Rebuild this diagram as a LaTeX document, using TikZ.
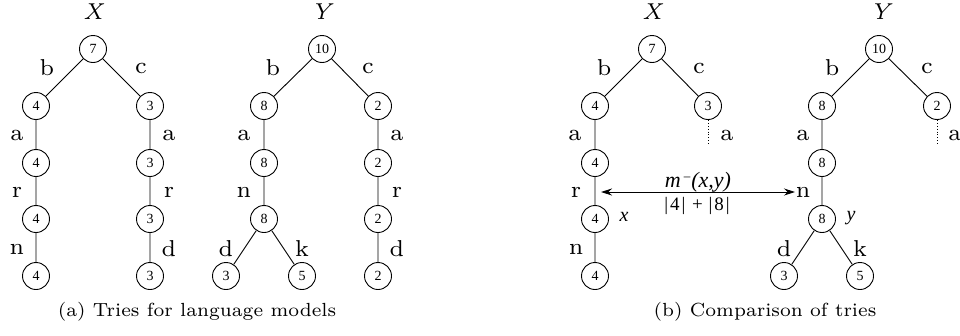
\documentclass[tikz,border=0pt]{standalone}
\usepackage{fontspec}
\newfontfamily\timesf{Liberation Serif}
\newfontfamily\lmseven{lmroman7-regular.otf}
\newfontfamily\lmsevenit{lmroman7-italic.otf}
\usetikzlibrary{arrows.meta}
\newcommand{\numf}{\timesf\fontsize{14}{16}\selectfont}
\newcommand{\labf}{\lmseven\fontsize{23}{25}\selectfont}
\newcommand{\titf}{\lmsevenit\fontsize{23}{25}\selectfont}
\newcommand{\capf}{\lmseven\fontsize{19}{21}\selectfont}
\newcommand{\varf}{\timesf\itshape\fontsize{20}{22}\selectfont}
\tikzset{
  v/.style={circle,draw,line width=0.9pt,inner sep=0pt,minimum size=27pt,font=\numf},
  lab/.style={font=\labf,inner sep=0pt},
  tit/.style={font=\titf,inner sep=0pt},
  edge/.style={line width=0.9pt},
  dots/.style={line width=0.9pt,dotted},
}
\begin{document}
\begin{tikzpicture}[x=1pt,y=-1pt]
\useasboundingbox (0,0) rectangle (960,335);
% ---------- panel (a), X
\node[tit] (tXa) at (93,12) {X};
\node[v] (a7) at (93,49) {7};
\node[v] (a4a) at (36,106) {4};
\node[v] (a4b) at (36,163) {4};
\node[v] (a4c) at (36,219) {4};
\node[v] (a4d) at (36,276) {4};
\node[v] (a3a) at (150,106) {3};
\node[v] (a3b) at (150,163) {3};
\node[v] (a3c) at (150,219) {3};
\node[v] (a3d) at (150,276) {3};
\draw[edge] (a7)--(a4a) (a4a)--(a4b) (a4b)--(a4c) (a4c)--(a4d);
\draw[edge] (a7)--(a3a) (a3a)--(a3b) (a3b)--(a3c) (a3c)--(a3d);
\node[lab] (l1) at (47,68) {b};
\node[lab] (l2) at (141,68) {c};
\node[lab] (l3) at (17,135) {a};
\node[lab] (l4) at (17,192) {r};
\node[lab] (l5) at (17,249) {n};
\node[lab] (l6) at (169,135) {a};
\node[lab] (l7) at (169,192) {r};
\node[lab] (l8) at (169,249) {d};
% ---------- panel (a), Y
\node[tit] (tYa) at (321,12) {Y};
\node[v] (b10) at (322,49) {10};
\node[v] (b8a) at (264,106) {8};
\node[v] (b8b) at (264,163) {8};
\node[v] (b8c) at (264,219) {8};
\node[v] (b3) at (226,276) {3};
\node[v] (b5) at (302,276) {5};
\node[v] (b2a) at (378,106) {2};
\node[v] (b2b) at (378,163) {2};
\node[v] (b2c) at (378,219) {2};
\node[v] (b2d) at (378,276) {2};
\draw[edge] (b10)--(b8a) (b8a)--(b8b) (b8b)--(b8c) (b8c)--(b3) (b8c)--(b5);
\draw[edge] (b10)--(b2a) (b2a)--(b2b) (b2b)--(b2c) (b2c)--(b2d);
\node[lab] (m1) at (273,68) {b};
\node[lab] (m2) at (368,68) {c};
\node[lab] (m3) at (244,135) {a};
\node[lab] (m4) at (244,192) {n};
\node[lab] (m5) at (226,249) {d};
\node[lab] (m6) at (302,249) {k};
\node[lab] (m7) at (397,135) {a};
\node[lab] (m8) at (397,192) {r};
\node[lab] (m9) at (397,249) {d};
\node[font=\capf] (capa) at (197,312) {(a) Tries for language models};
% ---------- panel (b), X
\node[tit] (tXb) at (652,12) {X};
\node[v] (c7) at (652,49) {7};
\node[v] (c4a) at (595,106) {4};
\node[v] (c4b) at (595,163) {4};
\node[v] (c4c) at (595,219) {4};
\node[v] (c4d) at (595,276) {4};
\node[v] (c3) at (708,106) {3};
\coordinate (c3e) at (708,144);
\draw[edge] (c7)--(c4a) (c4a)--(c4b) (c4b)--(c4c) (c4c)--(c4d) (c7)--(c3);
\draw[dots] (c3)--(c3e);
\node[lab] (n1) at (604,68) {b};
\node[lab] (n2) at (699,68) {c};
\node[lab] (n3) at (575,135) {a};
\node[lab] (n4) at (576,192) {r};
\node[lab] (n5) at (576,249) {n};
\node[lab] (n6) at (727,135) {a};
\node[font=\varf] (xl) at (624,217) {x};
% ---------- panel (b), Y
\node[tit] (tYb) at (880,12) {Y};
\node[v] (d10) at (879,49) {10};
\node[v] (d8a) at (822,106) {8};
\node[v] (d8b) at (822,163) {8};
\node[v] (d8c) at (822,219) {8};
\node[v] (d3) at (784,276) {3};
\node[v] (d5) at (860,276) {5};
\node[v] (d2) at (937,106) {2};
\coordinate (d2e) at (937,144);
\draw[edge] (d10)--(d8a) (d8a)--(d8b) (d8b)--(d8c) (d8c)--(d3) (d8c)--(d5) (d10)--(d2);
\draw[dots] (d2)--(d2e);
\node[lab] (o1) at (832,68) {b};
\node[lab] (o2) at (927,68) {c};
\node[lab] (o3) at (803,135) {a};
\node[lab] (o4) at (803,192) {n};
\node[lab] (o5) at (784,249) {d};
\node[lab] (o6) at (860,249) {k};
\node[lab] (o7) at (955,135) {a};
\node[font=\varf] (yl) at (851,218) {y};
% ---------- comparison arrow
\coordinate (arL) at (595,192);
\coordinate (arR) at (795,192);
\draw[edge,{Stealth[length=11pt,width=7pt]}-{Stealth[length=11pt,width=7pt]},shorten <=6pt] (arL)--(arR);
\node[font=\timesf\itshape\fontsize{22}{24}\selectfont,anchor=base] (ml) at (698,187) {m\kern3pt\raisebox{7pt}{\upshape\fontsize{13}{13}\selectfont\textendash}\kern1pt(x,y)};
\node[font=\timesf\fontsize{19}{21}\selectfont,anchor=base] (sl) at (697,210) {|\kern2pt4\kern2pt|\kern2pt{} + \kern1pt|\kern2pt8\kern2pt|};
\node[font=\capf] (capb) at (765,312) {(b) Comparison of tries};
\end{tikzpicture}
\end{document}
